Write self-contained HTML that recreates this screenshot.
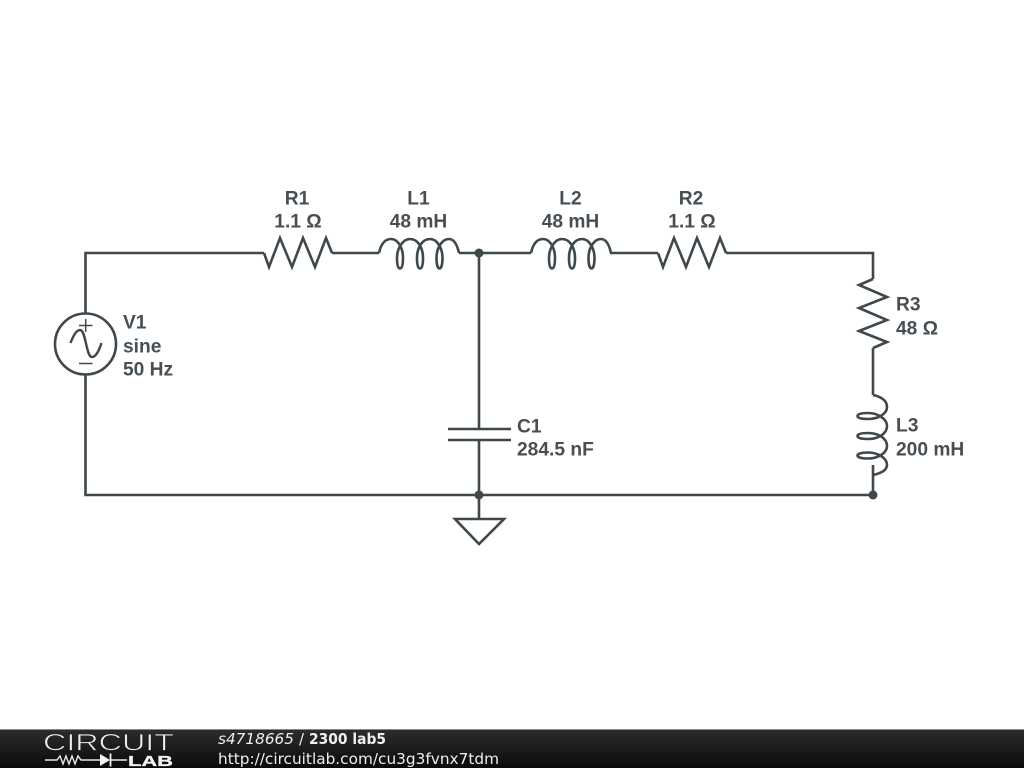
<!DOCTYPE html>
<html><head><meta charset="utf-8"><style>
html,body{margin:0;padding:0;background:#fff;width:1024px;height:768px;overflow:hidden}
svg{display:block}
.w{fill:none;stroke:#3f484d;stroke-width:2.6;stroke-linejoin:miter}
.t{font:bold 19.2px "Liberation Sans",sans-serif;fill:#474f54}
.m{text-anchor:middle}
.f{font-family:"DejaVu Sans",sans-serif;font-size:15px;fill:#eee}
</style></head><body>
<svg width="1024" height="768" viewBox="0 0 1024 768" xmlns="http://www.w3.org/2000/svg">
<defs>
<linearGradient id="g" x1="0" y1="0" x2="0" y2="1"><stop offset="0" stop-color="#2c2c2c"/><stop offset="1" stop-color="#0a0a0a"/></linearGradient>
</defs>
<rect width="1024" height="768" fill="#fff"/>
<g class="w">
<path d="M85.500 313V253H264M332 253H379M459 253H531M610 253H658M726 253H873V279M873 348V395M873 465V495H85.500V375"/>
<path d="M479 253V429M479 440V519"/>
<path d="M448 429H511M448 440H511"/>
<path d="M455 519H504L479 544Z"/>
<path d="M264 253L269 267L280 238L292 267L303 238L315 267L326 238L332 253"/>
<path d="M658 253L663 267L674 238L686 267L697 238L709 267L720 238L726 253"/>
<path d="M873 279L859 285L887 297L859 308L887 320L859 331L887 342L873 348"/>
<path d="M379 253C381 244 385 239 391 239C398 239 403 248 403 258C403 265 402 268.500 400 268.500C398 268.500 397 265 397 258C397 248 403 239 410 239C418 239 423 248 423 258C423 265 422 268.500 420 268.500C418 268.500 417 265 417 258C417 248 422 239 430 239C437 239 442.500 248 442.500 258C442.500 265 441 268.500 439.500 268.500C438 268.500 436.500 265 436.500 258C436.500 248 442 239 449 239C454 239 457 244 459 253"/>
<path transform="translate(152 0)" d="M379 253C381 244 385 239 391 239C398 239 403 248 403 258C403 265 402 268.500 400 268.500C398 268.500 397 265 397 258C397 248 403 239 410 239C418 239 423 248 423 258C423 265 422 268.500 420 268.500C418 268.500 417 265 417 258C417 248 422 239 430 239C437 239 442.500 248 442.500 258C442.500 265 441 268.500 439.500 268.500C438 268.500 436.500 265 436.500 258C436.500 248 442 239 449 239C454 239 457 244 459 253"/>
<path transform="matrix(0 1 -1 0 1126 16)" d="M379 253C381 244 385 239 391 239C398 239 403 248 403 258C403 265 402 268.500 400 268.500C398 268.500 397 265 397 258C397 248 403 239 410 239C418 239 423 248 423 258C423 265 422 268.500 420 268.500C418 268.500 417 265 417 258C417 248 422 239 430 239C437 239 442.500 248 442.500 258C442.500 265 441 268.500 439.500 268.500C438 268.500 436.500 265 436.500 258C436.500 248 442 239 449 239C454 239 457 244 459 253"/>
<circle cx="85.500" cy="344" r="30.500"/>
</g>
<g fill="none" stroke="#3f484d" stroke-width="1.500">
<path d="M79 325.500H92.500M85.700 319V332M79 363.500H92.500"/>
<path d="M70.500 343C73.500 335 76.500 330 80 330C86 330 86 357 92 357C95.500 357 99 351 101.500 343" stroke-width="2.400"/>
</g>
<g fill="#3f484d"><circle cx="479" cy="253" r="4.500"/><circle cx="479" cy="495" r="4.500"/><circle cx="873" cy="495" r="4.500"/></g>
<g class="t">
<text class="m" x="297" y="204.400">R1</text><text class="m" x="298" y="227.400">1.1 Ω</text>
<text class="m" x="418.500" y="204.400">L1</text><text class="m" x="418.500" y="227.400">48 mH</text>
<text class="m" x="570.500" y="204.400">L2</text><text class="m" x="570.500" y="227.400">48 mH</text>
<text class="m" x="691" y="204.400">R2</text><text class="m" x="692" y="227.400">1.1 Ω</text>
<text x="123" y="328.400">V1</text><text x="123" y="352.400">sine</text><text x="123" y="375.400">50 Hz</text>
<text x="896" y="310.400">R3</text><text x="896" y="334.400">48 Ω</text>
<text x="896" y="431.400">L3</text><text x="896" y="455.400">200 mH</text>
<text x="517" y="432.400">C1</text><text x="517" y="455.400">284.5 nF</text>
</g>
<rect y="729" width="1024" height="1" fill="#8a8a8a"/>
<rect y="730" width="1024" height="38" fill="url(#g)"/>
<text x="43" y="750.500" font-family="Liberation Sans,sans-serif" font-size="24.500" fill="#eee" stroke="#1f1f1f" stroke-width=".7" textLength="131" lengthAdjust="spacingAndGlyphs">CIRCUIT</text>
<path d="M45 760H57L60 756L63 764L66 756L69 764L72 756L75 764L78 756L81 760H100M111 760H127" fill="none" stroke="#e8e8e8" stroke-width="1.400"/>
<path d="M100 754V766L110 760Z" fill="#f2f2f2"/><path d="M110.500 753.500V766.500" stroke="#f2f2f2" stroke-width="1.800"/>
<text x="128" y="766" font-family="Liberation Sans,sans-serif" font-weight="bold" font-size="15" fill="#f2f2f2" stroke="#f2f2f2" stroke-width=".3" textLength="45" lengthAdjust="spacingAndGlyphs">LAB</text>
<text class="f" x="218" y="744" font-style="italic" textLength="76" lengthAdjust="spacingAndGlyphs">s4718665</text>
<text class="f" x="299" y="744">/</text>
<text class="f" x="309" y="744" font-weight="bold" fill="#fff" textLength="77" lengthAdjust="spacingAndGlyphs">2300 lab5</text>
<text class="f" x="218" y="764" textLength="281" lengthAdjust="spacingAndGlyphs">http://circuitlab.com/cu3g3fvnx7tdm</text>
</svg>
</body></html>
